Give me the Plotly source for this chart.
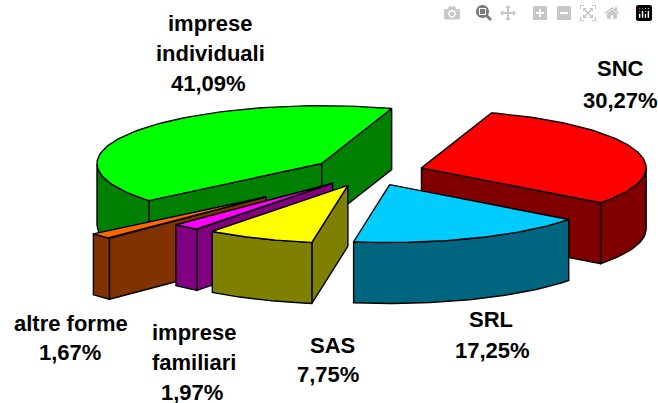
import numpy as np
import plotly.graph_objects as go

FAMILY = "Liberation Sans, Arial, sans-serif"

# slices in clockwise order, starting at the back edge shared by green and red
names = ["SNC", "SRL", "SAS", "imprese familiari", "altre forme", "imprese individuali"]
shares = [30.27, 17.25, 7.75, 1.97, 1.67, 41.09]
top_colors = ["#ff0000", "#00ccff", "#ffff00", "#ff00ff", "#ff6600", "#00ff00"]
side_colors = ["#800000", "#006680", "#808000", "#800080", "#803300", "#008000"]
explode = [0.24, 0.235, 0.25, 0.255, 0.63, 0.26]

# painter's order, back to front
draw_order = [5, 0, 4, 3, 2, 1]

# text is set line by line, the picture has wider leading than plotly's <br>
label_lines = {
    "SNC": ["SNC"],
    "SRL": ["SRL"],
    "SAS": ["SAS"],
    "imprese familiari": ["imprese", "familiari"],
    "altre forme": ["altre forme"],
    "imprese individuali": ["imprese", "individuali"],
}
label_pos = {
    "SNC": [(620, 68), (620, 100)],
    "SRL": [(491, 319), (492, 350)],
    "SAS": [(332, 345), (328, 374)],
    "imprese familiari": [(194, 332), (194, 362), (192, 392)],
    "altre forme": [(71, 323), (70, 352)],
    "imprese individuali": [(210, 23), (210, 53), (208, 83)],
}

# tilted pie: screen vectors for the radius at 0 and 90 degrees
CENTER = np.array([370.0, 172.0])
U = np.array([70.0, -55.0])
V = np.array([213.5, 18.0])
DEPTH = 61.0


def rim(t):
    t = np.asarray(t)
    return np.outer(np.cos(t), U) + np.outer(np.sin(t), V)


def add_poly(fig, pts, fill):
    pts = np.vstack([pts, pts[:1]])
    fig.add_trace(go.Scatter(
        x=pts[:, 0], y=pts[:, 1], mode="lines", fill="toself", fillcolor=fill,
        line=dict(color="black", width=1.4), hoverinfo="skip", showlegend=False))


def wall(fig, pts, fill):
    add_poly(fig, np.vstack([pts, pts[::-1] + [0, DEPTH]]), fill)


fig = go.Figure()
edges = np.radians(np.cumsum([0] + shares) * 3.6)

for i in draw_order:
    t0, t1 = edges[i], edges[i + 1]
    mid = (t0 + t1) / 2
    apex = CENTER + explode[i] * rim([mid])[0]
    ts = np.linspace(t0, t1, 80)
    arc = apex + rim(ts)

    # only the faces turned to the viewer are drawn
    if arc[0, 0] < apex[0]:
        wall(fig, np.array([apex, arc[0]]), side_colors[i])
    if arc[-1, 0] > apex[0]:
        wall(fig, np.array([arc[-1], apex]), side_colors[i])
    front = np.diff(arc[:, 0]) < 0
    if front.any():
        idx = np.where(front)[0]
        wall(fig, arc[idx[0]:idx[-1] + 2], side_colors[i])

    add_poly(fig, np.vstack([apex, arc]), top_colors[i])

for name, share in zip(names, shares):
    lines = label_lines[name] + [f"{share:.2f}%".replace(".", ",")]
    for line, (x, y) in zip(lines, label_pos[name]):
        fig.add_annotation(x=x, y=y, text=f"<b>{line}</b>", showarrow=False,
                           font=dict(family=FAMILY, size=22, color="black"))

fig.update_layout(
    width=658,
    height=403,
    margin=dict(l=0, r=0, t=0, b=0),
    paper_bgcolor="white",
    plot_bgcolor="white",
    xaxis=dict(range=[0, 658], visible=False),
    yaxis=dict(range=[403, 0], visible=False),
)

# page body has a default margin which would shift the picture
fig.write_html("out.html", post_script="document.body.style.margin='0';")
